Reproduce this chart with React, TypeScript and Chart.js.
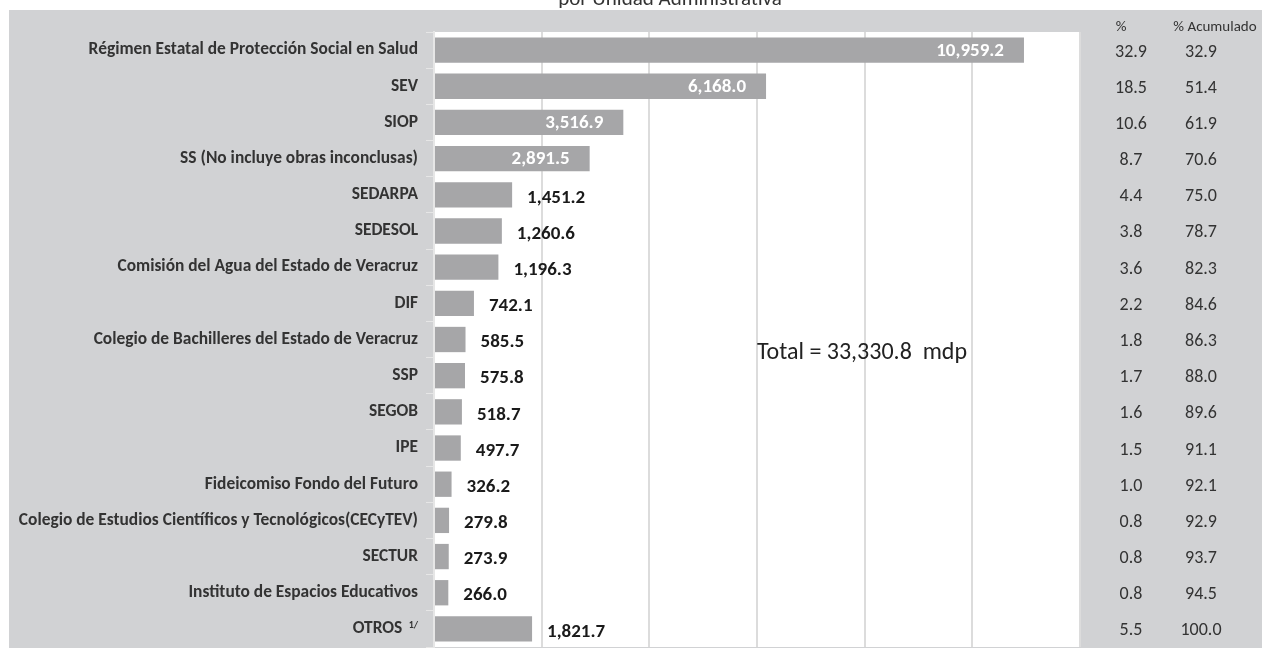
import React, { useEffect, useRef } from "react";
import { Chart, registerables } from "chart.js";

Chart.register(...registerables);

const categories = [
  "Régimen Estatal de Protección Social en Salud",
  "SEV",
  "SIOP",
  "SS (No incluye obras inconclusas)",
  "SEDARPA",
  "SEDESOL",
  "Comisión del Agua del Estado de Veracruz",
  "DIF",
  "Colegio de Bachilleres del Estado de Veracruz",
  "SSP",
  "SEGOB",
  "IPE",
  "Fideicomiso Fondo del Futuro",
  "Colegio de Estudios Científicos y Tecnológicos(CECyTEV)",
  "SECTUR",
  "Instituto de Espacios Educativos",
  "OTROS",
];
const values = [
  10959.2, 6168.0, 3516.9, 2891.5, 1451.2, 1260.6, 1196.3, 742.1, 585.5, 575.8,
  518.7, 497.7, 326.2, 279.8, 273.9, 266.0, 1821.7,
];
const pct = [
  "32.9", "18.5", "10.6", "8.7", "4.4", "3.8", "3.6", "2.2", "1.8", "1.7",
  "1.6", "1.5", "1.0", "0.8", "0.8", "0.8", "5.5",
];
const pctAcum = [
  "32.9", "51.4", "61.9", "70.6", "75.0", "78.7", "82.3", "84.6", "86.3",
  "88.0", "89.6", "91.1", "92.1", "92.9", "93.7", "94.5", "100.0",
];
const footnoteCategory = "OTROS";
const footnoteMark = "1/";
const titleText = "por Unidad Administrativa";
const totalText = "Total = 33,330.8  mdp";
const pctHeader = "%";
const acumHeader = "% Acumulado";
const xMax = 12000;
const xStep = 2000;
const insideCount = 4;

const FONT = "Carlito, Lato, 'Open Sans', sans-serif";
const PANEL = "#d1d2d4";
const BAR = "#a6a6a8";
const TEXT = "#333333";

const fmt = (v: number) =>
  v.toLocaleString("en-US", { minimumFractionDigits: 1, maximumFractionDigits: 1 });

const decorPlugin = {
  id: "decor",
  beforeDraw(chart: any) {
    const { ctx, chartArea } = chart;
    ctx.save();
    ctx.fillStyle = PANEL;
    ctx.fillRect(9, 10, 1262 - 9, 648 - 10);
    ctx.fillStyle = "#ffffff";
    ctx.fillRect(chartArea.left, chartArea.top, chartArea.right - chartArea.left, chartArea.bottom - chartArea.top);
    ctx.restore();
  },
  afterDraw(chart: any) {
    const { ctx } = chart;
    const yScale = chart.scales.y;
    ctx.save();
    // title (clipped at top)
    ctx.fillStyle = TEXT;
    ctx.font = `21px ${FONT}`;
    ctx.textAlign = "center";
    ctx.textBaseline = "alphabetic";
    ctx.fillText(titleText, 670, 5);
    // headers
    ctx.font = `15px ${FONT}`;
    ctx.textBaseline = "middle";
    ctx.fillText(pctHeader, 1121, 27);
    ctx.fillText(acumHeader, 1215, 27);
    // right columns
    ctx.font = `18px ${FONT}`;
    for (let i = 0; i < categories.length; i++) {
      const y = yScale.getPixelForValue(i) + 2;
      ctx.fillText(pct[i], 1131, y);
      ctx.fillText(pctAcum[i], 1201, y);
    }
    // footnote mark for OTROS
    const idx = categories.indexOf(footnoteCategory);
    if (idx >= 0) {
      const y = yScale.getPixelForValue(idx);
      ctx.font = `bold 10px ${FONT}`;
      ctx.fillStyle = TEXT;
      ctx.textAlign = "right";
      ctx.fillText(footnoteMark, 418, y - 3);
    }
    // total
    ctx.font = `24px ${FONT}`;
    ctx.fillStyle = "#222222";
    ctx.textAlign = "left";
    ctx.fillText(totalText, 757, 353);
    ctx.restore();
  },
  afterDatasetsDraw(chart: any) {
    const { ctx } = chart;
    const meta = chart.getDatasetMeta(0);
    ctx.save();
    ctx.font = `bold 19px ${FONT}`;
    ctx.textBaseline = "middle";
    meta.data.forEach((bar: any, i: number) => {
      const label = fmt(values[i]);
      if (i < insideCount) {
        ctx.fillStyle = "#ffffff";
        ctx.textAlign = "right";
        ctx.fillText(label, bar.x - 20, bar.y + 1);
      } else {
        ctx.fillStyle = "#1a1a1a";
        ctx.textAlign = "left";
        ctx.fillText(label, bar.x + 15, bar.y + 3);
      }
    });
    ctx.restore();
  },
};

export default function App() {
  const ref = useRef<HTMLCanvasElement | null>(null);
  useEffect(() => {
    if (!ref.current) return;
    const chart = new Chart(ref.current, {
      type: "bar",
      data: {
        labels: categories,
        datasets: [
          {
            data: values,
            backgroundColor: BAR,
            borderWidth: 0,
            categoryPercentage: 1,
            barPercentage: 0.7,
          },
        ],
      },
      options: {
        indexAxis: "y",
        animation: false,
        responsive: false,
        layout: { padding: { left: 0, top: 32, right: 182, bottom: 3 } },
        plugins: { legend: { display: false }, tooltip: { enabled: false }, title: { display: false } },
        scales: {
          x: {
            min: 0,
            max: xMax,
            ticks: { display: false, stepSize: xStep },
            grid: { color: "#dcdcdc", lineWidth: 2, drawTicks: false },
            border: { display: false },
            afterFit: (s: any) => {
              s.height = 0;
              s.paddingLeft = 0;
              s.paddingRight = 0;
            },
          },
          y: {
            ticks: {
              color: TEXT,
              font: { family: FONT, size: 17.4, weight: "bold" },
              padding: 8,
              autoSkip: false,
              callback: (_v: any, i: number) =>
                categories[i] === footnoteCategory ? categories[i] + "    " : categories[i],
            },
            grid: { drawOnChartArea: false, tickLength: 8, color: "#e6e6e6", offset: true },
            border: { color: "#e6e6e6", width: 2 },
            afterFit: (s: any) => {
              s.width = 434;
              s.paddingTop = 0;
              s.paddingBottom = 0;
            },
          },
        },
      },
      plugins: [decorPlugin],
    });
    return () => chart.destroy();
  }, []);
  return (
    <div style={{ position: "absolute", left: 0, top: 0, width: 1262, height: 650 }}>
      <canvas ref={ref} width={1262} height={650} />
    </div>
  );
}
